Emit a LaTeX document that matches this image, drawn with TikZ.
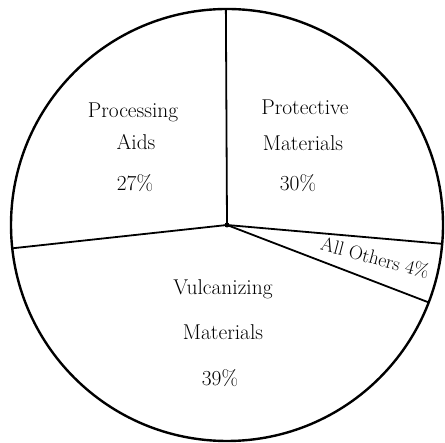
\documentclass[tikz,border=0pt]{standalone}
\usepackage{fontspec}
\usetikzlibrary{calc}
\begin{document}
\begin{tikzpicture}[x=1bp,y=1bp,
  lab/.style={font=\fontsize{21.5}{24}\selectfont, inner sep=0pt, text height=.7em, text depth=.2em},
  rim/.style={line width=2.4bp},
  spoke/.style={line width=1.8bp}]
\useasboundingbox (0,0) rectangle (445,443);
\coordinate (c) at (227,218);
\draw[rim] (c) circle (216);
\coordinate (t) at ($(c)+(90.3:216)$);
\coordinate (l) at ($(c)+(186.2:216)$);
\coordinate (u) at ($(c)+(-5:216)$);
\coordinate (d) at ($(c)+(-21:216)$);
\draw[spoke] (c) -- (t);
\draw[spoke] (c) -- (l);
\draw[spoke] (c) -- (u);
\draw[spoke] (c) -- (d);
\fill (c) circle (2.5);
\node[lab] (pa1) at (133,328) {Processing};
\node[lab] (pa2) at (136,296) {Aids};
\node[lab] (pa3) at (135,255) {27\%};
\node[lab] (pm1) at (305,331) {Protective};
\node[lab] (pm2) at (303,295) {Materials};
\node[lab] (pm3) at (298,255) {30\%};
\node[lab] (vm1) at (223,151) {Vulcanizing};
\node[lab] (vm2) at (223,106) {Materials};
\node[lab] (vm3) at (220,60) {39\%};
\node[lab, font=\fontsize{19.5}{22}\selectfont, rotate=-15] (ao) at (374,181) {All Others 4\%};
\end{tikzpicture}
\end{document}
